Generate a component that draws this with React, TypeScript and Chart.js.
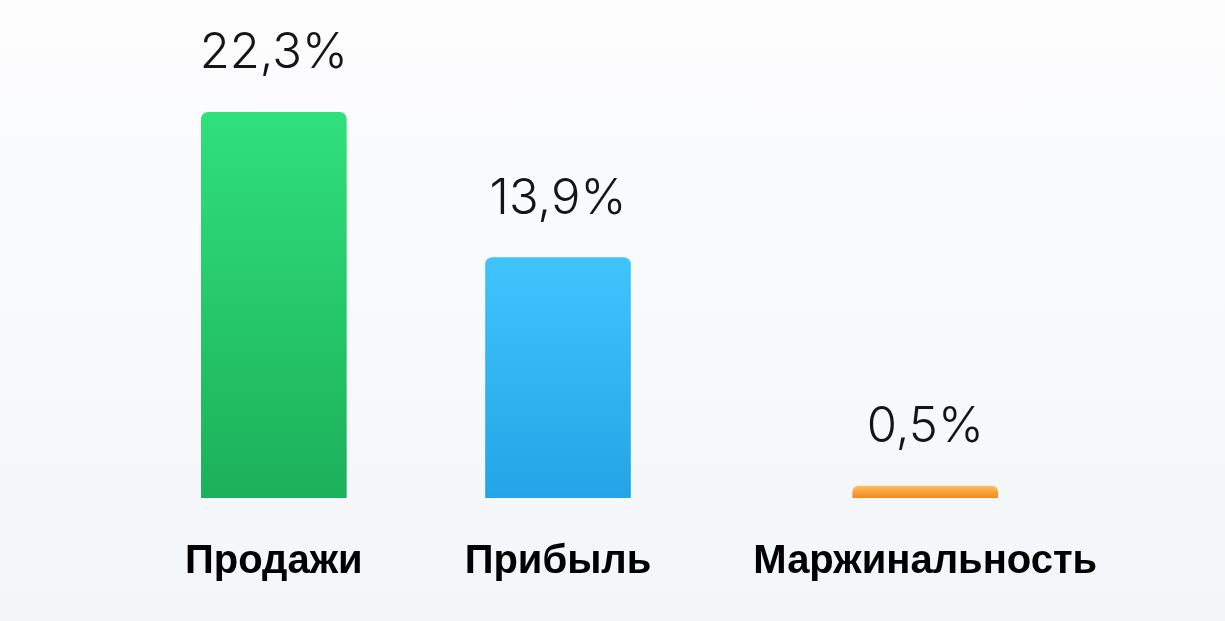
import React, { useEffect, useRef } from 'react';
import { Chart, registerables } from 'chart.js';

Chart.register(...registerables);

// ---- data ----
const categories = ['Продажи', 'Прибыль', 'Маржинальность'];
const values = [22.3, 13.9, 0.5];
const valueLabels = values.map((v) => v.toFixed(1).replace('.', ',') + '%');

// ---- styles ----
const colorsTop = ['#30e07c', '#40c4fd', '#ffbd5c'];
const colorsBottom = ['#1cb05a', '#24a4e6', '#f28a1c'];
const LABEL_FAMILY = '"Liberation Sans", Arial, Helvetica, sans-serif';
const LABEL_SIZE = 40;
const VALUE_FONT = '300 49px Inter, "Liberation Sans", Arial, sans-serif';
const COLUMN_GAP = 102;
const LEFT_OFFSET = 185;
const MIN_BAR = 12;
const Y_MAX = 28.8;

const valueLabelPlugin = {
  id: 'valueLabels',
  afterDatasetsDraw(chart: any) {
    const { ctx } = chart;
    const meta = chart.getDatasetMeta(0);
    ctx.save();
    ctx.font = VALUE_FONT;
    ctx.fillStyle = '#151515';
    ctx.textAlign = 'center';
    ctx.textBaseline = 'alphabetic';
    meta.data.forEach((el: any, i: number) => {
      const { x, y } = el.getProps(['x', 'y'], true);
      ctx.fillText(valueLabels[i], x, y - 44);
    });
    ctx.restore();
  },
};

export default function App() {
  const canvasRef = useRef<HTMLCanvasElement | null>(null);

  useEffect(() => {
    const canvas = canvasRef.current;
    if (!canvas) return;

    // measure category label widths to lay out columns like a flex row
    const mctx = document.createElement('canvas').getContext('2d')!;
    mctx.font = `bold ${LABEL_SIZE}px ${LABEL_FAMILY}`;
    const widths = categories.map((c) => mctx.measureText(c).width);
    let acc = 0;
    const centers = widths.map((w) => {
      const c = acc + w / 2;
      acc += w + COLUMN_GAP;
      return c;
    });
    const width = canvas.parentElement ? canvas.parentElement.clientWidth : window.innerWidth;

    const chart = new Chart(canvas, {
      type: 'bar',
      data: {
        datasets: [
          {
            data: values.map((v, i) => ({ x: centers[i], y: v })),
            barThickness: 145,
            minBarLength: MIN_BAR,
            borderRadius: { topLeft: 7, topRight: 7, bottomLeft: 0, bottomRight: 0 },
            borderSkipped: 'start',
            backgroundColor: (ctx: any) => {
              const i = ctx.dataIndex ?? 0;
              const chartRef = ctx.chart;
              const area = chartRef.chartArea;
              if (!area || ctx.type !== 'data') return colorsTop[i];
              const yScale = chartRef.scales.y;
              const base = yScale.getPixelForValue(0);
              const top = Math.min(yScale.getPixelForValue(values[i]), base - MIN_BAR);
              const g = chartRef.ctx.createLinearGradient(0, top, 0, base);
              g.addColorStop(0, colorsTop[i]);
              g.addColorStop(1, colorsBottom[i]);
              return g;
            },
          } as any,
        ],
      },
      options: {
        animation: false,
        responsive: true,
        maintainAspectRatio: false,
        layout: { padding: 0 },
        plugins: { legend: { display: false }, tooltip: { enabled: false } },
        scales: {
          x: {
            type: 'linear',
            offset: false,
            min: -LEFT_OFFSET,
            max: width - LEFT_OFFSET,
            grid: { display: false, drawTicks: false, offset: false },
            border: { display: false },
            afterBuildTicks: (scale: any) => {
              scale.ticks = centers.map((v) => ({ value: v }));
            },
            ticks: {
              autoSkip: false,
              maxRotation: 0,
              minRotation: 0,
              padding: 40,
              color: '#000',
              font: { family: LABEL_FAMILY, size: LABEL_SIZE, weight: 'bold', lineHeight: 1.2 },
              callback: (_v: any, idx: number) => categories[idx],
            },
          },
          y: {
            display: false,
            min: 0,
            max: Y_MAX,
          },
        },
      } as any,
      plugins: [valueLabelPlugin],
    });

    return () => chart.destroy();
  }, []);

  return (
    <div
      style={{
        position: 'fixed',
        inset: 0,
        overflow: 'hidden',
        background: 'linear-gradient(to bottom, #fdfdfe 0%, #f3f6f9 100%)',
      }}
    >
      <div style={{ position: 'relative', width: '100%', height: 626 }}>
        <canvas ref={canvasRef} />
      </div>
    </div>
  );
}
